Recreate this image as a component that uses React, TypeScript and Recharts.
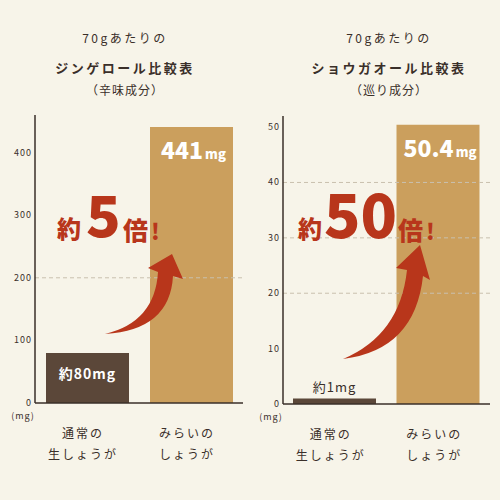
import React from "react";
import { BarChart, Bar, XAxis, YAxis, Cell, LabelList, ReferenceLine } from "recharts";

const categories = ["通常の生しょうが", "みらいのしょうが"];
const tickTop = ["通常の", "みらいの"];
const tickBottom = ["生しょうが", "しょうが"];
const prefixes = ["約", ""];
const gingerolValues = [80, 441];
const shogaolValues = [1, 50.4];
const gingerolTicks = [0, 100, 200, 300, 400];
const shogaolTicks = [0, 10, 20, 30, 40, 50];
const gingerolGrid = [200];
const shogaolGrid = [20, 30, 40];

const FONT = "'Noto Sans CJK JP', 'Noto Sans', sans-serif";
const INK = "#3a2f29";
const BG = "#f7f4e9";
const RED = "#b8361b";
const barColors = ["#5b4739", "#cb9f5d"];

const gingerolData = categories.map((name, i) => ({ name, value: gingerolValues[i] }));
const shogaolData = categories.map((name, i) => ({ name, value: shogaolValues[i] }));

const YTick = (props: any) => {
  const { x, y, payload } = props;
  return (
    <g>
      <text x={x} y={y + 3} textAnchor="end" fontSize={9} fill={INK} fontFamily={FONT} letterSpacing={1}>
        {payload.value}
      </text>
      {payload.value === 0 && (
        <text x={x - 9} y={y + 16} textAnchor="middle" fontSize={9} fill={INK} fontFamily={FONT} letterSpacing={1}>
          (mg)
        </text>
      )}
    </g>
  );
};

const XTick = (props: any) => {
  const { x, y, payload } = props;
  const i = payload.index;
  return (
    <g fontFamily={FONT} fontSize={12} fill={INK} letterSpacing={2}>
      <text x={x - 4} y={y + 33} textAnchor="middle">{tickTop[i]}</text>
      <text x={x - 4} y={y + 54} textAnchor="middle">{tickBottom[i]}</text>
    </g>
  );
};

const BarLabel = (props: any) => {
  const { x, y, width, height, value, index } = props;
  const cx = x + width / 2;
  if (index === 1) {
    return (
      <text x={cx + 2} y={y + 32} textAnchor="middle" fill="#fff" fontFamily={FONT} fontWeight={900}>
        <tspan fontSize={23}>{value}</tspan>
        <tspan fontSize={13} dx={2}>mg</tspan>
      </text>
    );
  }
  const inside = height > 30;
  return (
    <text
      x={cx}
      y={inside ? y + 26 : y - 6}
      textAnchor="middle"
      fill={inside ? "#fff" : INK}
      fontFamily={FONT}
      fontSize={inside ? 14 : 13}
      fontWeight={inside ? 700 : 400}
      letterSpacing={1}
    >
      {prefixes[index] + value}mg
    </text>
  );
};

const Titles = ({ left, lines }: { left: number; lines: string[] }) => (
  <div style={{ position: "absolute", left, top: 0, width: 250, fontFamily: FONT, color: INK, textAlign: "center" }}>
    <div style={{ position: "absolute", top: 29, width: "100%", fontSize: 12, letterSpacing: 2.5 }}>{lines[0]}</div>
    <div style={{ position: "absolute", top: 58, width: "100%", fontSize: 13, fontWeight: 700, letterSpacing: 2.5 }}>{lines[1]}</div>
    <div style={{ position: "absolute", top: 81, width: "100%", fontSize: 12, letterSpacing: 1 }}>{lines[2]}</div>
  </div>
);

const Panel = ({ data, domain, ticks, grid, margin }: any) => (
  <BarChart width={250} height={500} data={data} margin={margin} barSize={83}>
    <XAxis
      dataKey="name"
      height={70}
      interval={0}
      tickLine={false}
      tickSize={0}
      axisLine={{ stroke: INK, strokeWidth: 1.5 }}
      tick={<XTick />}
    />
    <YAxis
      type="number"
      width={30}
      domain={domain}
      ticks={ticks}
      tickLine={false}
      tickSize={0}
      tickMargin={3}
      axisLine={{ stroke: INK, strokeWidth: 1.5 }}
      tick={<YTick />}
    />
    <Bar dataKey="value" isAnimationActive={false}>
      {data.map((d: any, i: number) => (
        <Cell key={d.name} fill={barColors[i]} />
      ))}
      <LabelList dataKey="value" content={<BarLabel />} />
    </Bar>
    {grid.map((g: number) => (
      <ReferenceLine key={g} y={g} stroke="#c9c0ae" strokeDasharray="4 3" />
    ))}
  </BarChart>
);

export default function App() {
  return (
    <div style={{ position: "absolute", left: 0, top: 0, width: 500, height: 500, background: BG, overflow: "hidden" }}>
      <Titles left={0} lines={["70gあたりの", "ジンゲロール比較表", "（辛味成分）"]} />
      <Titles left={264} lines={["70gあたりの", "ショウガオール比較表", "（巡り成分）"]} />
      <div style={{ position: "absolute", left: 0, top: 0 }}>
        <Panel data={gingerolData} domain={[0, 460]} ticks={gingerolTicks} grid={gingerolGrid}
          margin={{ top: 115, right: 7, left: 5, bottom: 27 }} />
      </div>
      <div style={{ position: "absolute", left: 250, top: 0 }}>
        <Panel data={shogaolData} domain={[0, 52]} ticks={shogaolTicks} grid={shogaolGrid}
          margin={{ top: 116, right: 10, left: 3, bottom: 26 }} />
      </div>
      <svg width={500} height={500} style={{ position: "absolute", left: 0, top: 0, pointerEvents: "none" }}>
        <path d="M105,334 Q155,322 158,272 L148,268 L172,254 L183,279 L173,276 Q170,330 105,334 Z" fill={RED} />
        <path d="M343,359 Q400,335 407,270 L396,268 L420,245 L430,280 L423,276 Q415,350 343,359 Z" fill={RED} />
        <g fill={RED} fontFamily={FONT} fontWeight={900}>
          <text x={57} y={238} fontSize={24}>約</text>
          <text x={86} y={237} fontSize={57}>5</text>
          <text x={123} y={240} fontSize={25}>倍</text>
          <text x={151} y={240} fontSize={22}>!</text>
          <text x={298} y={238} fontSize={24}>約</text>
          <text x={324} y={238} fontSize={60}>50</text>
          <text x={398} y={240} fontSize={25}>倍</text>
          <text x={426} y={240} fontSize={22}>!</text>
        </g>
      </svg>
    </div>
  );
}
